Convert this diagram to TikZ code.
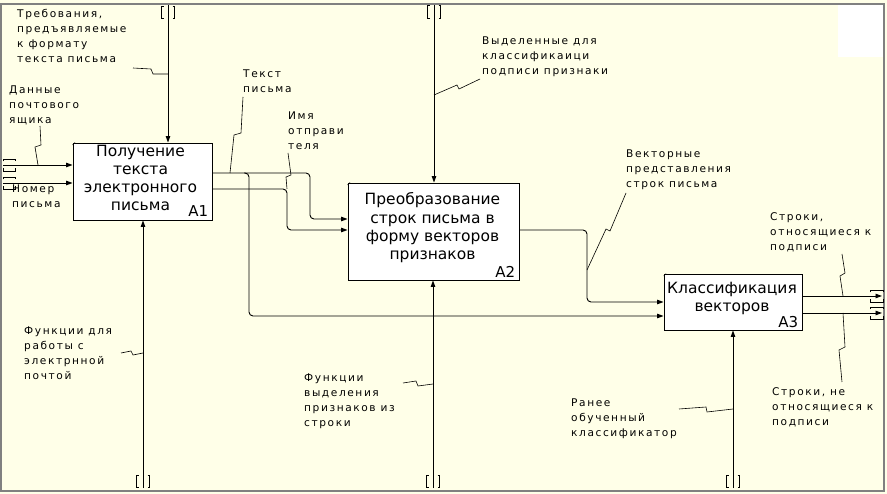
\documentclass[tikz,border=0pt]{standalone}
\usepackage{fontspec}
\setmainfont{DejaVu Sans}
\newfontfamily\labfont[LetterSpace=15]{DejaVu Sans}
\newfontfamily\boxfont{DejaVu Sans}
\usetikzlibrary{arrows.meta,calc}
\definecolor{bgcol}{RGB}{255,255,232}
\definecolor{framecol}{RGB}{128,128,128}
\newcommand{\idefvt}[3]{%
  \draw[tun] ({#1-4.5},#2) -- ({#1-6.5},#2) -- ({#1-6.5},#3) -- ({#1-4.5},#3);
  \draw[tun] ({#1+4.5},#2) -- ({#1+6.5},#2) -- ({#1+6.5},#3) -- ({#1+4.5},#3);}
\newcommand{\idefht}[3]{%
  \draw[tun] (#1,{#3-3.5}) -- (#1,{#3-6}) -- (#2,{#3-6}) -- (#2,{#3-3.5});
  \draw[tun] (#1,{#3+3.5}) -- (#1,{#3+6}) -- (#2,{#3+6}) -- (#2,{#3+3.5});}
\begin{document}
\begin{tikzpicture}[x=1pt,y=-1pt,
  lab/.style={font=\labfont\fontsize{10.6}{15}\selectfont, align=left, inner sep=0pt, anchor=north west},
  proc/.style={draw, line width=0.9pt, fill=white, inner sep=0pt},
  ttl/.style={font=\boxfont\fontsize{15.5}{18.3}\selectfont, align=center, inner sep=0pt},
  num/.style={font=\boxfont\fontsize{15}{18}\selectfont, inner sep=0pt, anchor=base east},
  conn/.style={line width=0.9pt, rounded corners=4pt},
  arr/.style={-{Triangle[length=6.5pt,width=4.5pt]}},
  lead/.style={line width=0.6pt},
  tun/.style={line width=0.9pt}
]
\useasboundingbox (0,0) rectangle (887,494);
\fill[bgcol] (0,0) rectangle (887,494);
\fill[white] (838,5) rectangle (883,57);
\draw[framecol, line width=2pt] (1,4) rectangle (884,491);

% boxes
\node[proc, minimum width=139pt, minimum height=77pt] (a1) at (142.5,181.5) {};
\node[proc, minimum width=171pt, minimum height=97pt] (a2) at (433.5,231.5) {};
\node[proc, minimum width=138pt, minimum height=56pt] (a3) at (733,302) {};
\foreach \b in {a1,a2,a3}{\draw[line width=0.5pt] ([yshift=-2.5pt]\b.north west) -- ([xshift=2.5pt]\b.north west);}

\node[ttl] (a1t) at ([xshift=-2pt,yshift=3.5pt]a1.center) {Получение\\текста\\электронного\\письма};
\node[ttl] (a2t) at ([xshift=-1pt,yshift=3.5pt]a2.center) {Преобразование\\строк письма в\\форму векторов\\признаков};
\node[ttl] (a3t) at ([xshift=-1pt,yshift=3.5pt]a3.center) {Классификация\\векторов};
\node[num] (a1n) at ([xshift=-4pt,yshift=3.5pt]a1.south east) {A1};
\node[num] (a2n) at ([xshift=-4pt,yshift=2.5pt]a2.south east) {A2};
\node[num] (a3n) at ([xshift=-4pt,yshift=2.5pt]a3.south east) {A3};

% tunnel end points
\coordinate (c1s) at (168,5);
\coordinate (c2s) at (434,5);
\coordinate (i1s) at (3,165);
\coordinate (i2s) at (3,183);
\coordinate (m1s) at (143,488);
\coordinate (m2s) at (433,488);
\coordinate (m3s) at (733,488);
\coordinate (o1e) at (883,296);
\coordinate (o2e) at (883,313);

% controls, inputs, mechanisms
\draw[conn,arr] (c1s) -- (a1.north -| c1s);
\draw[conn,arr] (c2s) -- (a2.north -| c2s);
\draw[conn,arr] (i1s) -- (a1.west |- i1s);
\draw[conn,arr] (i2s) -- (a1.west |- i2s);
\draw[conn,arr] (m1s) -- (a1.south -| m1s);
\draw[conn,arr] (m2s) -- (a2.south -| m2s);
\draw[conn,arr] (m3s) -- (a3.south -| m3s);

% internal flows
\draw[conn,arr] (a1.east |- 0,173) -- (310,173) -- (310,219) -- (a2.west |- 0,219);
\draw[conn,arr] (244,173) -- (249,173) -- (249,316) -- (a3.west |- 0,316);
\draw[conn,arr] (a1.east |- 0,189) -- (287,189) -- (287,230) -- (a2.west |- 0,230);
\draw[conn,arr] (a2.east |- 0,230) -- (587,230) -- (587,302) -- (a3.west |- 0,302);
\draw[conn,arr] (a3.east |- o1e) -- ([xshift=-1pt]o1e);
\draw[conn,arr] (a3.east |- o2e) -- ([xshift=-1pt]o2e);

% tunnels
\idefvt{168}{6}{18}
\idefvt{434}{5}{18}
\idefvt{143}{475}{487}
\idefvt{433}{475}{487}
\idefvt{733}{475}{487}
\idefht{3}{15}{165}
\idefht{3}{15}{183}
\idefht{870}{883}{296}
\idefht{870}{883}{313}

% labels
\node[lab] (l1) at (17,9.5) {Требования,\\предъявляемые\\к формату\\текста письма};
\node[lab] (l2) at (9,86) {Данные\\почтового\\ящика};
\node[lab] (l3) at (12,185) {Номер\\письма};
\node[lab] (l4) at (243,70) {Текст\\письма};
\node[lab] (l5) at (288,112) {Имя\\отправи\\теля};
\node[lab] (l6) at (482,37) {Выделенные для\\классификаици\\подписи признаки};
\node[lab] (l7) at (626,150) {Векторные\\представления\\строк письма};
\node[lab] (l8) at (770,212) {Строки,\\относящиеся к\\подписи};
\node[lab] (l9) at (772,387) {Строки, не\\относящиеся к\\подписи};
\node[lab] (l10) at (24,327) {Функции для\\работы с\\электрнной\\почтой};
\node[lab] (l11) at (304,374) {Функции\\выделения\\признаков из\\строки};
\node[lab] (l12) at (571,399) {Ранее\\обученный\\классификатор};

% leaders
\draw[lead] (133,68) -- (151,69) -- (153,74) -- (168,74);
\draw[lead] (40,126) -- (41,145) -- (35,147) -- (38,165);
\draw[lead] (243,97) -- (241,133) -- (234,135) -- (230,173);
\draw[lead] (288,153) -- (291,175) -- (286,177) -- (287,189);
\draw[lead] (480,79) -- (459,89) -- (457,85) -- (434,95);
\draw[lead] (626,193) -- (610,231) -- (606,229) -- (587,270);
\draw[lead] (842,254) -- (845,273) -- (840,276) -- (843,296);
\draw[lead] (843,313) -- (845,347) -- (839,350) -- (842,382);
\draw[lead] (121,353) -- (131,351) -- (133,355) -- (143,353);
\draw[lead] (403,383) -- (416,381) -- (418,386) -- (433,384);
\draw[lead] (679,409) -- (706,407) -- (707,412) -- (733,409);
\end{tikzpicture}
\end{document}
